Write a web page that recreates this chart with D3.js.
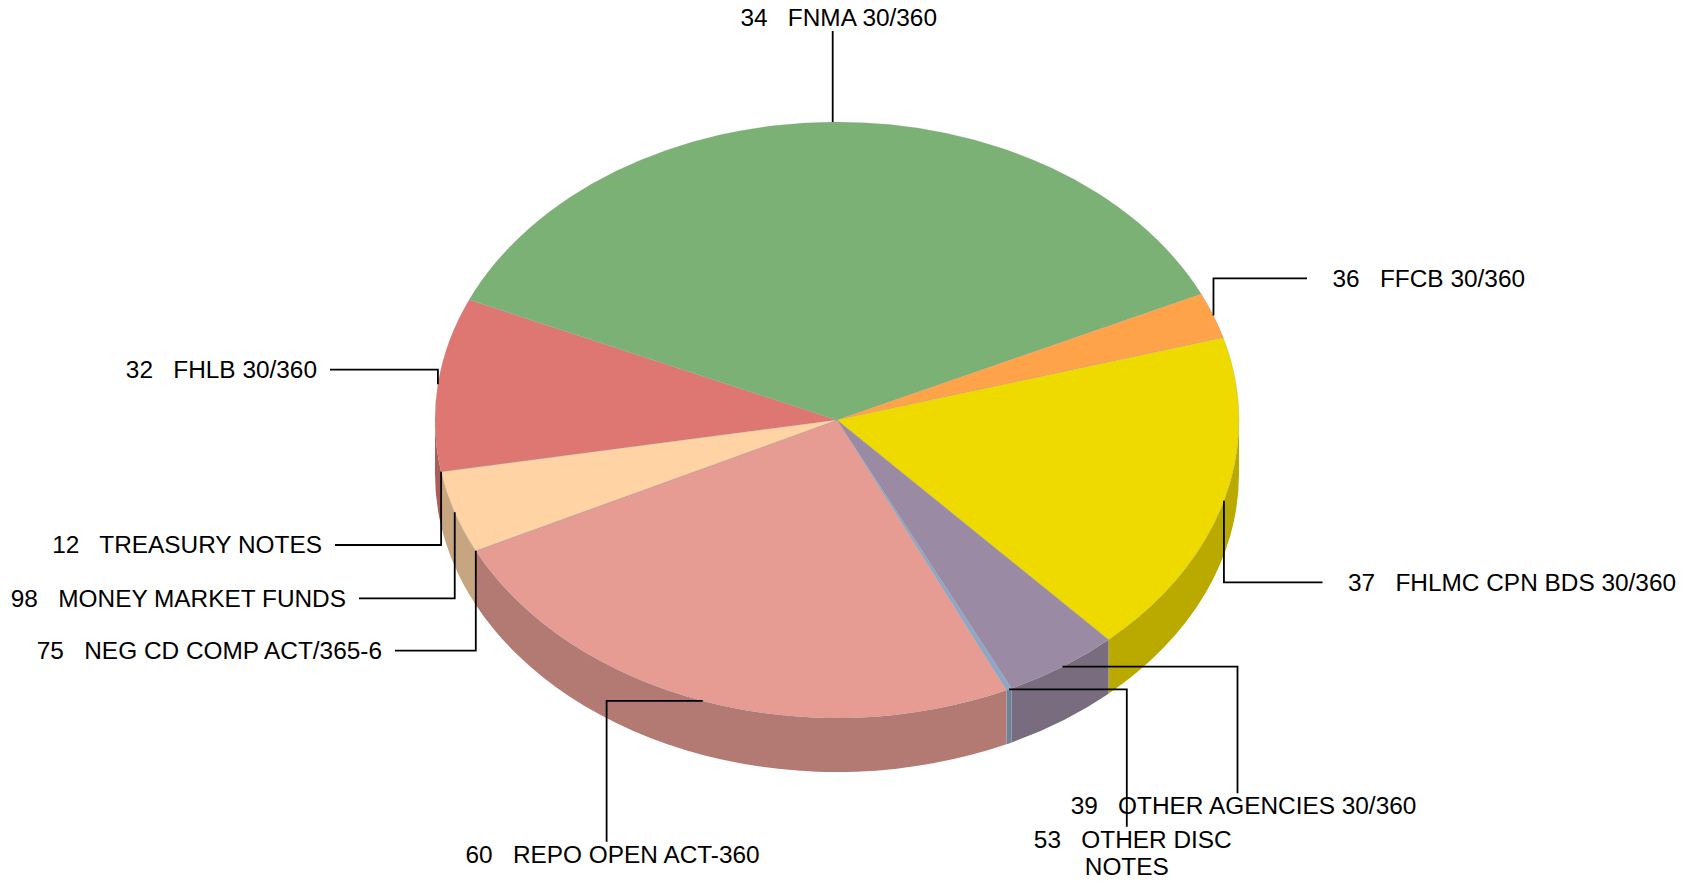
<!DOCTYPE html>
<html>
<head>
<meta charset="utf-8">
<script src="https://cdn.jsdelivr.net/npm/d3@7/dist/d3.min.js"></script>
<style>
  html, body { margin: 0; padding: 0; background: #ffffff; }
  svg { display: block; }
  text { font-family: "Liberation Sans", Arial, sans-serif; font-size: 24.4px; fill: #000; white-space: pre; }
</style>
</head>
<body>
<svg id="chart" width="1694" height="883"></svg>
<script>
// ---- data (slice order as in the source, clockwise) ----
const codes = ["12", "32", "34", "36", "37", "39", "53", "60", "75", "98"];
const categories = [
  "TREASURY NOTES", "FHLB 30/360", "FNMA 30/360", "FFCB 30/360",
  "FHLMC CPN BDS 30/360", "OTHER AGENCIES 30/360", "OTHER DISC NOTES",
  "REPO OPEN ACT-360", "NEG CD COMP ACT/365-6", "MONEY MARKET FUNDS"
];
const shares = [0.01, 9.39, 36.44, 2.50, 17.65, 4.65, 0.23, 24.69, 0.01, 4.44];

// ---- styles ----
const topColors = [
  "#A9C4E8", "#DE7772", "#7BB174", "#FFA34A", "#EFDA00",
  "#9B8AA3", "#8EA7C6", "#E69C93", "#C9B3D6", "#FFD3A4"
];
const sideFactor = 0.78;

// ---- label layout (leader elbow / end points) ----
const labelLayout = [
  { side: "left",   x: 335,    y: 545 },
  { side: "left",   x: 330,    y: 369.7 },
  { side: "top",                y: 31 },
  { side: "right",  x: 1307,   y: 278.3 },
  { side: "right",  x: 1322.5, y: 582.3 },
  { side: "bottom", x: 1237.5, y: 793.3 },
  { side: "bottom", x: 1126.8, y: 826.7, wrap: 2 },
  { side: "bottom", x: 606.6,  y: 841.7 },
  { side: "left",   x: 395,    y: 650.7 },
  { side: "left",   x: 359,    y: 598.3 }
];

// ---- geometry ----
const cx = 837, cy = 420, rx = 402, ry = 298, depth = 54;
const deg = Math.PI / 180;
const startDeg = 259.964; // d3.pie angle (0 = 12 o'clock)

const svg = d3.select("#chart");

const pie = d3.pie().sort(null).value(d => d)
  .startAngle(startDeg * deg).endAngle(startDeg * deg + 2 * Math.PI);
const arcs = pie(shares).map((a, i) => ({
  i,
  t1: a.startAngle - Math.PI / 2,
  t2: a.endAngle - Math.PI / 2
}));

const P = (t, dy = 0) => [cx + rx * Math.cos(t), cy + ry * Math.sin(t) + dy];

function sideColor(c) {
  const r = d3.rgb(c);
  return d3.rgb(r.r * sideFactor, r.g * sideFactor, r.b * sideFactor).formatHex();
}

// side walls (front half only)
const sideG = svg.append("g");
arcs.forEach(a => {
  let t1 = a.t1 % (2 * Math.PI);
  if (t1 < 0) t1 += 2 * Math.PI;
  const t2 = t1 + (a.t2 - a.t1);
  [[0, Math.PI], [2 * Math.PI, 3 * Math.PI]].forEach(([lo, hi]) => {
    const s = Math.max(t1, lo), e = Math.min(t2, hi);
    if (e <= s) return;
    const p1 = P(s), p2 = P(e), q2 = P(e, depth), q1 = P(s, depth);
    const d = `M${p1}A${rx},${ry} 0 0 1 ${p2}L${q2}A${rx},${ry} 0 0 0 ${q1}Z`;
    sideG.append("path").attr("d", d).attr("fill", sideColor(topColors[a.i]));
  });
});

// top surfaces
const topG = svg.append("g");
arcs.forEach(a => {
  const p1 = P(a.t1), p2 = P(a.t2);
  const large = (a.t2 - a.t1) > Math.PI ? 1 : 0;
  const d = `M${cx},${cy}L${p1}A${rx},${ry} 0 ${large} 1 ${p2}Z`;
  topG.append("path").attr("d", d).attr("fill", topColors[a.i])
    .attr("stroke", "rgba(150,150,150,0.35)").attr("stroke-width", 0.6);
});

// leaders + labels
const labG = svg.append("g");
arcs.forEach(a => {
  const L = labelLayout[a.i];
  const mid = (a.t1 + a.t2) / 2;
  const [ax, ay] = P(mid);
  let pts, tx, ty, anchor;
  if (L.side === "left" || L.side === "right") {
    pts = [[ax, ay], [ax, L.y], [L.x, L.y]];
    ty = L.y + 8.3;
    if (L.side === "left") { tx = L.x - 13; anchor = "end"; }
    else { tx = L.x + 25.5; anchor = "start"; }
  } else if (L.side === "top") {
    pts = [[ax, ay], [ax, L.y]];
    tx = ax + 6; ty = L.y - 5; anchor = "middle";
  } else {
    pts = [[ax, ay], [L.x, ay], [L.x, L.y]];
    tx = L.x + 6; ty = L.y + 21; anchor = "middle";
  }
  labG.append("path")
    .attr("d", d3.line()(pts))
    .attr("fill", "none").attr("stroke", "#000").attr("stroke-width", 1.8);

  const words = categories[a.i].split(" ");
  const lines = L.wrap
    ? [codes[a.i] + "   " + words.slice(0, L.wrap).join(" "), words.slice(L.wrap).join(" ")]
    : [codes[a.i] + "   " + categories[a.i]];
  lines.forEach((ln, k) => {
    labG.append("text")
      .attr("x", k === 0 ? tx : tx - 6)
      .attr("y", ty + k * 27.7)
      .attr("text-anchor", anchor)
      .text(ln);
  });
});
</script>
</body>
</html>
